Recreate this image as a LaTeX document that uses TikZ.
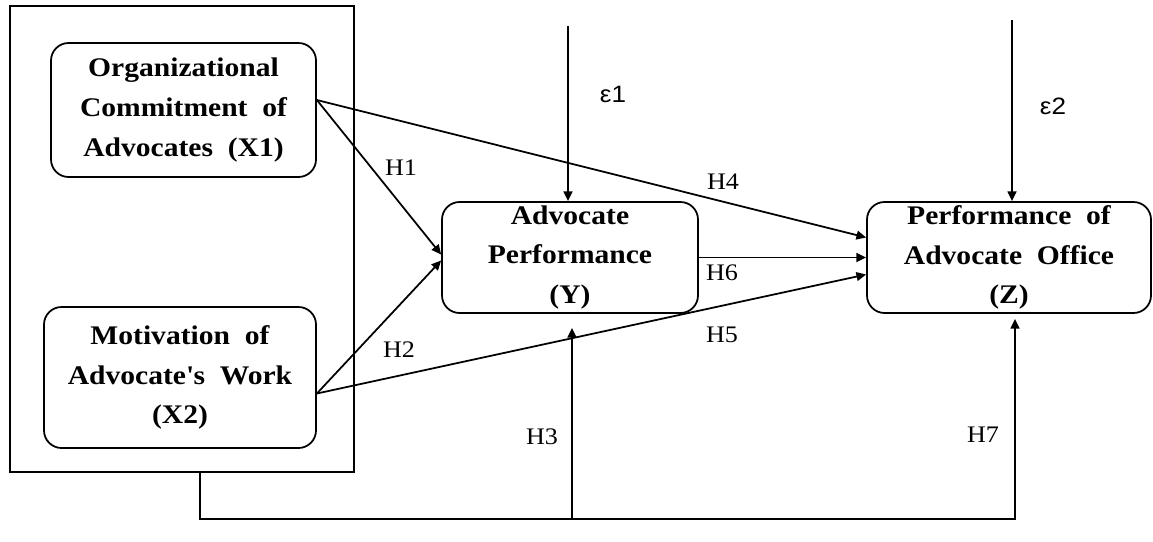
\documentclass[tikz,border=0pt]{standalone}
\usepackage{fontspec}
\setmainfont{Liberation Serif}[FakeStretch=1.1]
\newfontfamily\sansf{Liberation Sans}[FakeStretch=1.1]
\usetikzlibrary{arrows.meta,calc}
\begin{document}
\begin{tikzpicture}[x=0.02cm,y=-0.02cm,
  line width=1pt,
  varbox/.style={draw,rounded corners=10pt,align=center,inner sep=0pt,
    font=\fontsize{15.3}{22.7}\selectfont\bfseries},
  arr/.style={-{Triangle[length=5.5pt,width=5pt]}},
  hlabel/.style={font=\fontsize{13.5}{15}\selectfont,inner sep=0pt},
  elabel/.style={font=\sansf\fontsize{13.5}{15}\selectfont,inner sep=0pt}]
\useasboundingbox (0,0) rectangle (1153,541);

% exogenous group frame and variables
\node[draw,minimum width=344*0.02cm,minimum height=466*0.02cm,inner sep=0pt] (group) at (182,239) {};
\node[varbox,minimum width=265*0.02cm,minimum height=134*0.02cm] (X1) at (183.5,110)
  {Organizational\\Commitment\ \ of\\Advocates\ \ (X1)};
\node[varbox,minimum width=272*0.02cm,minimum height=141*0.02cm] (X2) at (180,377.5)
  {Motivation\ \ of\\Advocate\textquotesingle s\ \ Work\\(X2)};

% endogenous variables
\node[varbox,minimum width=256*0.02cm,minimum height=111*0.02cm] (Y) at (570,257.5)
  {Advocate\\Performance\\(Y)};
\node[varbox,minimum width=284*0.02cm,minimum height=111*0.02cm] (Z) at (1009,257.5)
  {Performance\ \ of\\Advocate\ \ Office\\(Z)};

% error terms
\coordinate (e1top) at (568,26);
\coordinate (e2top) at (1012,20);
\draw[arr] (e1top) -- (e1top |- Y.north);
\draw[arr] (e2top) -- (e2top |- Z.north);
\node[elabel] (e1) at (613,94) {ε1};
\node[elabel] (e2) at (1053,106) {ε2};

% direct paths
\draw[arr] ($(X1.east)+(0,-10)$) -- ($(Y.west)+(0,-3)$);
\draw[arr] ($(X1.east)+(0,-10)$) -- ($(Z.west)+(0,-20)$);
\draw[arr] ($(X2.east)+(0,16)$) -- ($(Y.west)+(0,3)$);
\draw[arr] ($(X2.east)+(0,16)$) -- ($(Z.west)+(0,17)$);
\draw[arr] (Y.east) -- (Z.west);

% joint paths from the group frame
\coordinate (h3foot) at ($(Y.south)+(2,205)$);
\draw[arr] ($(group.south)+(18,0)$) -- ++(0,46) -| ($(Z.south)+(6,5)$);
\draw[arr] (h3foot) -- ($(Y.south)+(2,14)$);

% hypothesis labels
\node[hlabel] (H1) at (401,168) {H1};
\node[hlabel] (H2) at (399,350) {H2};
\node[hlabel] (H3) at (542,437) {H3};
\node[hlabel] (H4) at (723,182) {H4};
\node[hlabel] (H5) at (722,335) {H5};
\node[hlabel] (H6) at (722,273) {H6};
\node[hlabel] (H7) at (983,435) {H7};
\end{tikzpicture}
\end{document}
